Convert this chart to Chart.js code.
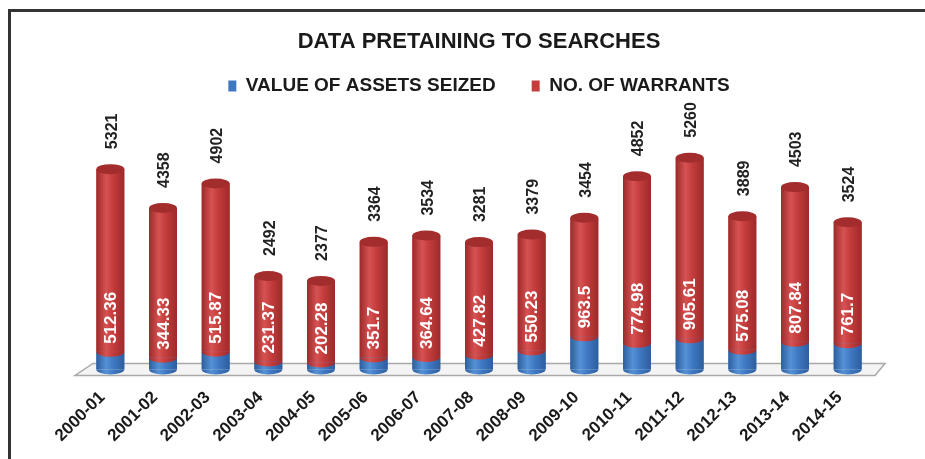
<!DOCTYPE html>
<html>
<head>
<meta charset="utf-8">
<script src="https://cdn.jsdelivr.net/npm/chart.js@4/dist/chart.umd.min.js"></script>
<style>
  body { margin: 0; background: #fff; }
  #frame { position: absolute; left: 8px; top: 9px; width: 940px; height: 470px;
           border-left: 3px solid #333; border-top: 3px solid #333; }
  #wrap { position: absolute; left: 0; top: 0; width: 925px; height: 459px; }
</style>
</head>
<body>
<div id="frame"></div>
<div id="wrap"><canvas id="chart" width="925" height="459"></canvas></div>
<script>
const years = ['2000-01', '2001-02', '2002-03', '2003-04', '2004-05', '2005-06', '2006-07', '2007-08',
  '2008-09', '2009-10', '2010-11', '2011-12', '2012-13', '2013-14', '2014-15'];
const assetsSeized = [512.36, 344.33, 515.87, 231.37, 202.28, 351.7, 364.64, 427.82,
  550.23, 963.5, 774.98, 905.61, 575.08, 807.84, 761.7];
const warrants = [5321, 4358, 4902, 2492, 2377, 3364, 3534, 3281,
  3379, 3454, 4852, 5260, 3889, 4503, 3524];

const BLUE = '#3f78c2';
const RED = '#c63d3d';
const ARIAL = '"Liberation Sans", Arial, sans-serif';

function hGrad(ctx, x0, x1, dark, mid, light) {
  const g = ctx.createLinearGradient(x0, 0, x1, 0);
  g.addColorStop(0, dark);
  g.addColorStop(0.35, light);
  g.addColorStop(0.6, mid);
  g.addColorStop(1, dark);
  return g;
}

// 3d floor under the bars
const floorPlugin = {
  id: 'floor',
  beforeDatasetsDraw(chart) {
    const { ctx, chartArea } = chart;
    const b = chartArea.bottom;
    ctx.save();
    ctx.beginPath();
    ctx.moveTo(chartArea.left + 9, b - 6);
    ctx.lineTo(chartArea.right + 11, b - 6);
    ctx.lineTo(chartArea.right + 1, b + 6);
    ctx.lineTo(chartArea.left - 9, b + 6);
    ctx.closePath();
    ctx.fillStyle = '#f4f4f4';
    ctx.fill();
    ctx.strokeStyle = '#a9a9a9';
    ctx.lineWidth = 1.5;
    ctx.stroke();
    ctx.restore();
  }
};

// paints the bars as cylinders and adds the value labels
const cylinderPlugin = {
  id: 'cylinder',
  afterDatasetsDraw(chart) {
    const ctx = chart.ctx;
    const blue = chart.getDatasetMeta(0).data;
    const red = chart.getDatasetMeta(1).data;
    const ry = 5;
    ctx.save();
    blue.forEach((bb, i) => {
      const rb = red[i];
      const w = bb.width;
      const x0 = bb.x - w / 2, x1 = bb.x + w / 2;
      const bg = hGrad(ctx, x0, x1, '#2d5e9e', '#3f79c3', '#5591d6');
      const rg = hGrad(ctx, x0, x1, '#9c2a2a', '#c43c3c', '#d65252');
      // blue body + bottom half ellipse
      ctx.fillStyle = bg;
      ctx.fillRect(x0, bb.y, w, bb.base - bb.y);
      ctx.beginPath();
      ctx.ellipse(bb.x, bb.base, w / 2, ry, 0, 0, Math.PI);
      ctx.fill();
      // red body + bottom half ellipse overlapping blue
      ctx.fillStyle = rg;
      ctx.fillRect(x0, rb.y, w, rb.base - rb.y);
      ctx.beginPath();
      ctx.ellipse(rb.x, rb.base, w / 2, ry, 0, 0, Math.PI);
      ctx.fill();
      // top cap
      ctx.beginPath();
      ctx.ellipse(rb.x, rb.y, w / 2, ry, 0, 0, Math.PI * 2);
      ctx.fillStyle = '#a32d2d';
      ctx.fill();

      // warrants label above
      ctx.save();
      ctx.translate(rb.x + 2, rb.y - 20);
      ctx.rotate(-Math.PI / 2);
      ctx.font = 'bold 16px ' + ARIAL;
      ctx.fillStyle = '#222';
      ctx.textAlign = 'left';
      ctx.textBaseline = 'middle';
      ctx.fillText(String(warrants[i]), 0, 0);
      ctx.restore();

      // assets label inside
      ctx.save();
      ctx.translate(rb.x, rb.base - 8);
      ctx.rotate(-Math.PI / 2);
      ctx.font = 'bold 17px ' + ARIAL;
      ctx.fillStyle = '#fff';
      ctx.textAlign = 'left';
      ctx.textBaseline = 'middle';
      ctx.fillText(String(assetsSeized[i]), 0, 1);
      ctx.restore();
    });
    ctx.restore();
  }
};

new Chart(document.getElementById('chart'), {
  type: 'bar',
  data: {
    labels: years,
    datasets: [
      { label: 'VALUE OF ASSETS SEIZED', data: assetsSeized, backgroundColor: BLUE },
      { label: 'NO. OF WARRANTS', data: warrants, backgroundColor: RED }
    ]
  },
  options: {
    responsive: false,
    animation: false,
    devicePixelRatio: 1,
    layout: { padding: { left: 84, right: 51, top: 0, bottom: 3 } },
    datasets: { bar: { categoryPercentage: 1, barPercentage: 0.53 } },
    scales: {
      x: {
        stacked: true,
        grid: { display: false },
        border: { display: false },
        ticks: {
          minRotation: 45, maxRotation: 45,
          labelOffset: -8,
          color: '#1a1a1a',
          padding: 10,
          font: { family: ARIAL, size: 17, weight: 'bold' }
        }
      },
      y: { stacked: true, display: false, min: 0, max: 7690 }
    },
    plugins: {
      title: {
        display: true,
        text: 'DATA PRETAINING TO SEARCHES',
        color: '#1a1a1a',
        font: { family: ARIAL, size: 22, weight: 'bold' },
        padding: { top: 29, bottom: -15 }
      },
      legend: {
        labels: {
          color: '#1a1a1a',
          boxWidth: 8, boxHeight: 11,
          padding: 36,
          font: { family: ARIAL, size: 19, weight: 'bold' }
        }
      },
      tooltip: { enabled: false }
    }
  },
  plugins: [floorPlugin, cylinderPlugin]
});
</script>
</body>
</html>
